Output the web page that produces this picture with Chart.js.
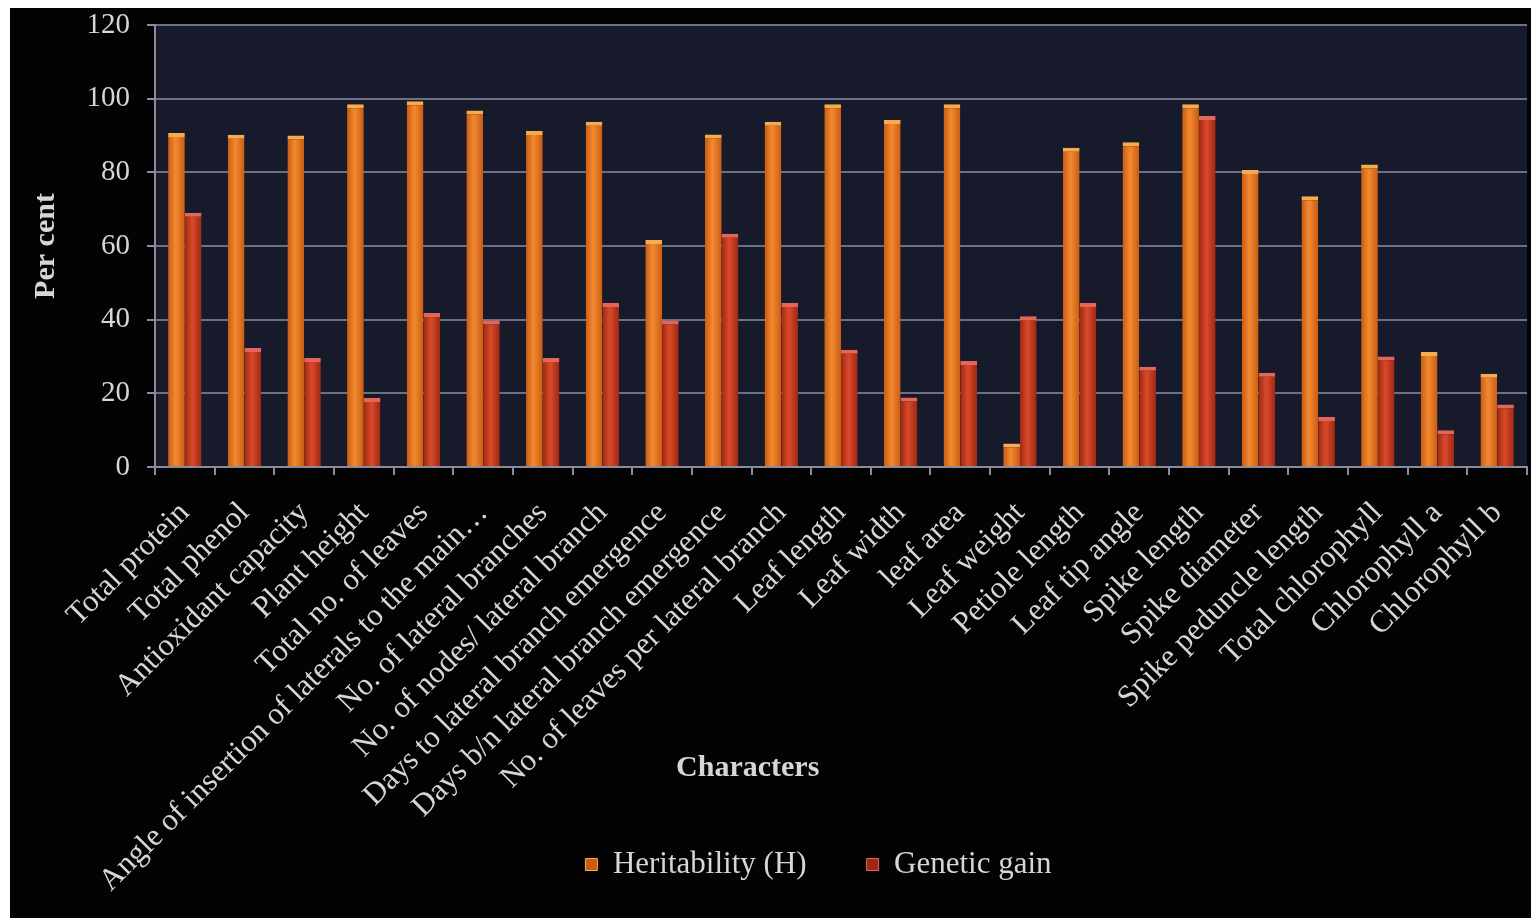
<!DOCTYPE html>
<html>
<head>
<meta charset="utf-8">
<script src="https://cdn.jsdelivr.net/npm/chart.js@4.4.1/dist/chart.umd.min.js"></script>
<style>
  html, body { margin: 0; padding: 0; background: #ffffff; }
  #frame { position: absolute; left: 10px; top: 8px; width: 1521px; height: 910px; background: #030303; }
  canvas { display: block; }
</style>
</head>
<body>
<div id="frame"><canvas id="chart" width="1521" height="910"></canvas></div>
<script>
// Characters and their estimates (per cent)
const categories = [
  "Total protein", "Total phenol", "Antioxidant capacity", "Plant height",
  "Total no. of leaves", "Angle of insertion of laterals to the main…",
  "No. of lateral branches", "No. of nodes/ lateral branch",
  "Days to lateral branch emergence", "Days b/n lateral branch emergence",
  "No. of leaves per lateral branch", "Leaf length", "Leaf width", "leaf area",
  "Leaf weight", "Petiole length", "Leaf tip angle", "Spike length",
  "Spike diameter", "Spike peduncle length", "Total chlorophyll",
  "Chlorophyll a", "Chlorophyll b"
];
const heritability = [90.7, 90.2, 90.0, 98.5, 99.3, 96.8, 91.2, 93.7, 61.6, 90.3, 93.7, 98.5,
                      94.2, 98.5, 6.4, 86.7, 88.2, 98.5, 80.6, 73.5, 82.1, 31.2, 25.3];
const geneticGain  = [69.0, 32.3, 29.6, 18.7, 41.8, 39.8, 29.6, 44.5, 39.8, 63.3, 44.5, 31.8,
                      18.9, 28.8, 40.9, 44.5, 27.2, 95.3, 25.6, 13.6, 30.0, 10.0, 17.0];
const yTickValues = [0, 20, 40, 60, 80, 100, 120];
const seriesNames = ["Heritability (H)", "Genetic gain"];
const xAxisTitle = "Characters";
const yAxisTitle = "Per cent";

const SERIF = "'Liberation Serif', 'DejaVu Serif', serif";
const TEXT = "#d6d6d6";
const GRID = "#6c7084";
const AXIS = "#8a8c9c";

// Horizontal shading so each bar reads as a cylinder
function cylinder(base, light, dark) {
  return (ctx) => {
    const el = ctx.element;
    if (!el || !isFinite(el.x) || !isFinite(el.width) || !el.width) return base;
    const x0 = el.x - el.width / 2, x1 = el.x + el.width / 2;
    const g = ctx.chart.ctx.createLinearGradient(x0, 0, x1, 0);
    g.addColorStop(0, dark);
    g.addColorStop(0.45, light);
    g.addColorStop(1, dark);
    return g;
  };
}

// Dark panel behind the plot, category-axis title, legend placement
const panel = {
  id: "panel",
  beforeDraw(chart) {
    const { ctx, chartArea: a } = chart;
    ctx.save();
    ctx.fillStyle = "#161a2b";
    ctx.fillRect(a.left, a.top, a.right - a.left, a.bottom - a.top);
    ctx.restore();
  },
  afterLayout(chart) {
    // let the slanted category labels run down past the legend row
    chart.scales.x.bottom = chart.height - 4;
    chart.legend.left += 50;
    chart.legend.right += 50;
  },
  afterDraw(chart) {
    const { ctx, chartArea: a } = chart;
    ctx.save();
    ctx.font = "bold 30px " + SERIF;
    ctx.fillStyle = TEXT;
    ctx.textAlign = "center";
    ctx.textBaseline = "middle";
    ctx.fillText(xAxisTitle, a.left + (a.right - a.left) * 0.432, a.bottom + 301);
    ctx.restore();
  }
};

const chart = new Chart(document.getElementById("chart"), {
  type: "bar",
  data: {
    labels: categories,
    datasets: [
      {
        label: seriesNames[0],
        data: heritability,
        backgroundColor: cylinder("#e8731e", "#f38a30", "#c95c12"),
        borderColor: "#f7ac4c",
        borderWidth: { top: 4, left: 0, right: 0, bottom: 0 },
        borderSkipped: "bottom"
      },
      {
        label: seriesNames[1],
        data: geneticGain,
        backgroundColor: cylinder("#c83b1e", "#da4a2a", "#9e2812"),
        borderColor: "#e4665a",
        borderWidth: { top: 4, left: 0, right: 0, bottom: 0 },
        borderSkipped: "bottom"
      }
    ]
  },
  options: {
    responsive: false,
    animation: false,
    devicePixelRatio: 1,
    layout: { padding: { left: 0, right: 4, top: 17, bottom: 28 } },
    datasets: { bar: { categoryPercentage: 0.56, barPercentage: 1.0 } },
    plugins: {
      tooltip: { enabled: false },
      legend: {
        position: "bottom",
        labels: {
          color: TEXT,
          font: { family: SERIF, size: 31 },
          boxWidth: 12,
          boxHeight: 12,
          padding: 60
        }
      }
    },
    scales: {
      x: {
        grid: { display: true, drawOnChartArea: false, color: AXIS, tickLength: 8, lineWidth: 2 },
        border: { color: AXIS, width: 2 },
        ticks: {
          color: TEXT,
          font: { family: SERIF, size: 31 },
          autoSkip: false,
          maxRotation: 45,
          minRotation: 45,
          padding: 20
        },
        afterFit(scale) {
          scale.height = 322;
          scale.paddingRight = 0;
        }
      },
      y: {
        min: 0,
        max: 120,
        afterBuildTicks(scale) { scale.ticks = yTickValues.map(v => ({ value: v })); },
        grid: { color: GRID, lineWidth: 2, tickLength: 8, tickColor: AXIS },
        border: { color: AXIS, width: 2 },
        ticks: {
          color: TEXT,
          font: { family: SERIF, size: 29 },
          padding: 17
        },
        title: {
          display: true,
          text: yAxisTitle,
          color: TEXT,
          font: { family: SERIF, size: 30, weight: "bold" },
          padding: { top: 18, bottom: 0 }
        },
        afterFit(scale) {
          scale.width = 145;
          scale.paddingTop = 0;
          scale.paddingBottom = 0;
        }
      }
    }
  },
  plugins: [panel]
});
chart.update("none");
</script>
</body>
</html>
